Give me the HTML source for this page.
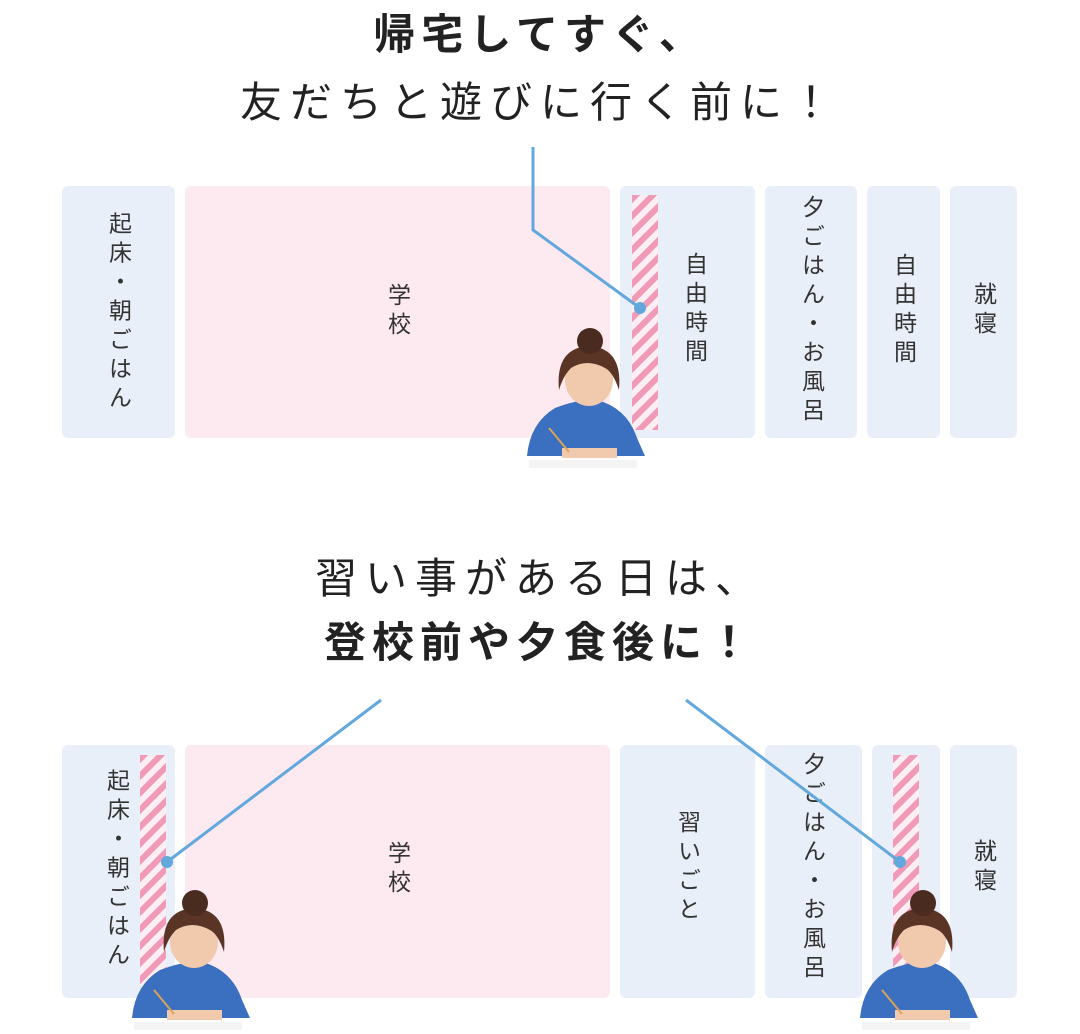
<!DOCTYPE html>
<html><head><meta charset="utf-8"><style>
body{margin:0;width:1080px;height:1034px;background:#fff;position:relative;overflow:hidden;font-family:"Liberation Sans","Noto Sans CJK JP",sans-serif;color:#333}
.t{position:absolute;left:0;width:1080px;text-align:center;font-size:42px;letter-spacing:8px;line-height:1;color:#222}
.b{position:absolute;border-radius:6px}
.bl{background:#e8eff8}.pk{background:#fdeaf1}
.v{position:absolute;writing-mode:vertical-rl;font-size:23px;letter-spacing:6px;line-height:1;transform:translate(-50%,-50%);white-space:nowrap;color:#333}
.s{position:absolute;width:26px;background:repeating-linear-gradient(135deg,#f09ab8 0 6px,#fdeef3 6px 12px)}
svg{position:absolute;left:0;top:0}
</style></head><body>
<div class="t" style="top:14px;font-weight:bold;letter-spacing:6px">帰宅してすぐ、</div>
<div class="t" style="top:82px">友だちと遊びに行く前に！</div>
<div class="t" style="top:558px">習い事がある日は、</div>
<div class="t" style="top:622px;font-weight:bold;letter-spacing:6px">登校前や夕食後に！</div>

<div class="b bl" style="left:62px;top:186px;width:113px;height:252px"></div>
<div class="b pk" style="left:185px;top:186px;width:425px;height:252px"></div>
<div class="b bl" style="left:620px;top:186px;width:135px;height:252px"></div>
<div class="b bl" style="left:765px;top:186px;width:92px;height:252px"></div>
<div class="b bl" style="left:867px;top:186px;width:73px;height:252px"></div>
<div class="b bl" style="left:950px;top:186px;width:67px;height:252px"></div>
<div class="s" style="left:632px;top:195px;height:235px"></div>

<div class="b bl" style="left:62px;top:745px;width:113px;height:253px"></div>
<div class="b pk" style="left:185px;top:745px;width:425px;height:253px"></div>
<div class="b bl" style="left:620px;top:745px;width:135px;height:253px"></div>
<div class="b bl" style="left:765px;top:745px;width:97px;height:253px"></div>
<div class="b bl" style="left:872px;top:745px;width:68px;height:253px"></div>
<div class="b bl" style="left:950px;top:745px;width:67px;height:253px"></div>
<div class="s" style="left:140px;top:755px;height:230px"></div>
<div class="s" style="left:893px;top:755px;height:230px"></div>

<div class="v" style="left:118px;top:313px">起床・朝ごはん</div>
<div class="v" style="left:397px;top:312px">学校</div>
<div class="v" style="left:694px;top:310px">自由時間</div>
<div class="v" style="left:811px;top:311px">夕ごはん・お風呂</div>
<div class="v" style="left:903px;top:311px">自由時間</div>
<div class="v" style="left:983px;top:311px">就寝</div>

<div class="v" style="left:116px;top:870px">起床・朝ごはん</div>
<div class="v" style="left:397px;top:870px">学校</div>
<div class="v" style="left:687px;top:868px">習いごと</div>
<div class="v" style="left:812px;top:868px">夕ごはん・お風呂</div>
<div class="v" style="left:983px;top:868px">就寝</div>

<svg width="1080" height="1034">
<defs>
<g id="girl">
<rect x="2" y="132" width="108" height="8" fill="#f4f4f4"/>
<path d="M0 128 Q3 95 28 80 Q55 70 70 72 Q100 80 110 110 L118 128 Z" fill="#3b6fbf"/>
<ellipse cx="62" cy="52" rx="24" ry="26" fill="#f1c9ad"/>
<path d="M32 62 Q28 20 62 18 Q96 20 92 62 Q86 44 78 40 Q60 30 44 40 Q36 48 32 62Z" fill="#5a3526"/>
<circle cx="63" cy="13" r="13" fill="#4a2b1f"/>
<rect x="35" y="120" width="55" height="10" fill="#f1c9ad"/>
<line x1="22" y1="100" x2="42" y2="124" stroke="#d9a35a" stroke-width="2"/>
</g>
</defs>
<g fill="none" stroke="#62a8dd" stroke-width="3">
<polyline points="533,147 533,230 640,308"/>
<line x1="381" y1="700" x2="167" y2="862"/>
<line x1="686" y1="700" x2="900" y2="862"/>
</g>
<circle cx="640" cy="308" r="6" fill="#62a8dd"/>
<circle cx="167" cy="862" r="6" fill="#62a8dd"/>
<circle cx="900" cy="862" r="6" fill="#62a8dd"/>
<use href="#girl" x="527" y="328"/>
<use href="#girl" x="132" y="890"/>
<use href="#girl" x="860" y="890"/>
</svg>
</body></html>
